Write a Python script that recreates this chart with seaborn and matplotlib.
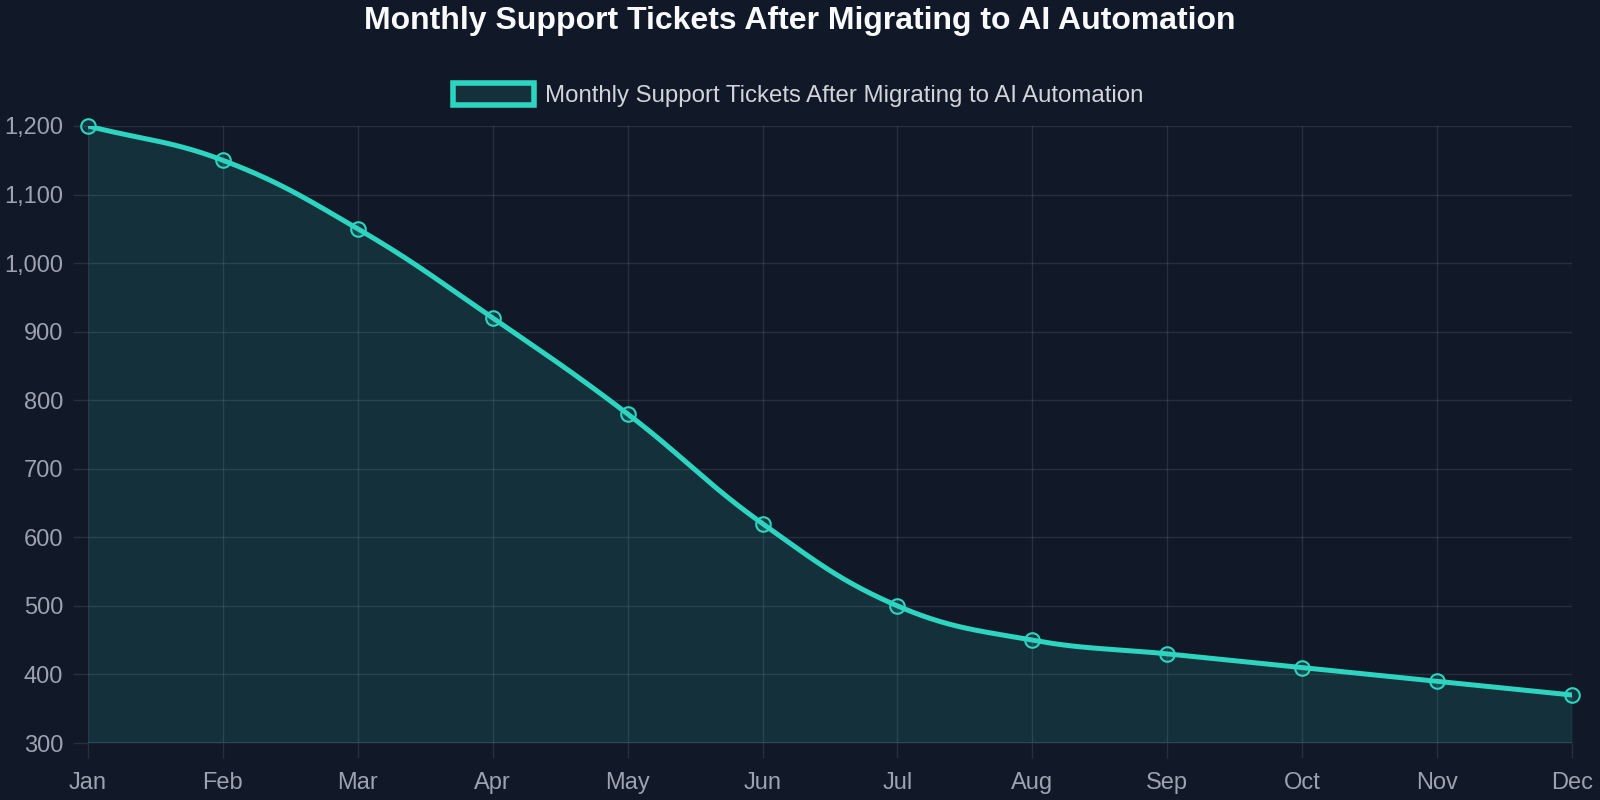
import numpy as np
import pandas as pd
import matplotlib
matplotlib.use("Agg")
import matplotlib.pyplot as plt
import seaborn as sns
from matplotlib.patches import Patch
from matplotlib.ticker import FuncFormatter, MultipleLocator

months = ["Jan", "Feb", "Mar", "Apr", "May", "Jun", "Jul", "Aug", "Sep", "Oct", "Nov", "Dec"]
tickets = [1200, 1150, 1050, 920, 780, 620, 500, 450, 430, 410, 390, 370]
series_name = "Monthly Support Tickets After Migrating to AI Automation"
title = "Monthly Support Tickets After Migrating to AI Automation"

BG = "#111827"
TEAL = "#2dd4bf"
FILL = (45 / 255, 212 / 255, 191 / 255, 0.13)
GRID_RGB = (148 / 255, 163 / 255, 184 / 255)
GRID_A = 0.17
GRID_SOLID = "#262f3f"
TICK = "#9ca3af"

sns.set_theme(style="dark")
plt.rcParams["font.family"] = ["Liberation Sans", "DejaVu Sans"]

df = pd.DataFrame({"month": months, "tickets": tickets, "idx": np.arange(len(months))})

fig = plt.figure(figsize=(16, 8), dpi=100, facecolor=BG)
W, H = 1600, 800
left, right, top, bottom = 88, 1572, 126, 743
ax = fig.add_axes([left / W, 1 - bottom / H, (right - left) / W, (bottom - top) / H])
ax.set_facecolor(BG)
ax.set_xlim(0, len(months) - 1)
ax.set_ylim(300, 1200)

# Spline (Chart.js style, tension 0.4) computed in pixel space
fig.canvas.draw()
pts = ax.transData.transform(np.column_stack([df["idx"], df["tickets"]]).astype(float))
t = 0.4
n = len(pts)
cp_prev = np.zeros_like(pts)
cp_next = np.zeros_like(pts)
for i in range(n):
    prev = pts[i - 1] if i > 0 else pts[i]
    cur = pts[i]
    nxt = pts[i + 1] if i < n - 1 else pts[i]
    d01 = np.hypot(*(cur - prev))
    d12 = np.hypot(*(nxt - cur))
    s = d01 + d12
    s01 = d01 / s if s else 0
    s12 = d12 / s if s else 0
    cp_prev[i] = cur - t * s01 * (nxt - prev)
    cp_next[i] = cur + t * s12 * (nxt - prev)

curve = []
u = np.linspace(0, 1, 60)[:, None]
for i in range(n - 1):
    p0, p1, p2, p3 = pts[i], cp_next[i], cp_prev[i + 1], pts[i + 1]
    seg = (1 - u) ** 3 * p0 + 3 * (1 - u) ** 2 * u * p1 + 3 * (1 - u) * u ** 2 * p2 + u ** 3 * p3
    curve.append(seg if i == 0 else seg[1:])
curve = np.vstack(curve)
curve_data = ax.transData.inverted().transform(curve)

ax.fill_between(curve_data[:, 0], curve_data[:, 1], 300, color=FILL, linewidth=0, zorder=1)
ax.plot(curve_data[:, 0], curve_data[:, 1], color=TEAL, linewidth=3.6,
        solid_capstyle="round", solid_joinstyle="round", zorder=3)
sns.scatterplot(data=df, x="idx", y="tickets", ax=ax, s=110, marker="o",
                facecolor=(45 / 255, 212 / 255, 191 / 255, 0.15), edgecolor=TEAL,
                linewidth=1.5, zorder=4, clip_on=False, legend=False)

ax.set_xlim(0, len(months) - 1)
ax.set_ylim(300, 1200)
ax.set_xticks(df["idx"])
ax.set_xticklabels(months)
ax.yaxis.set_major_locator(MultipleLocator(100))
ax.yaxis.set_major_formatter(FuncFormatter(lambda v, p: f"{v:,.0f}"))
ax.set_xlabel("")
ax.set_ylabel("")
ax.grid(True, color=GRID_RGB, alpha=GRID_A, linewidth=1)
ax.set_axisbelow(True)
for sp in ax.spines.values():
    sp.set_visible(False)
ax.tick_params(axis="both", bottom=True, left=True, colors=GRID_SOLID, labelcolor=TICK,
               labelsize=17, length=11, width=1)
ax.tick_params(axis="x", pad=10)
ax.tick_params(axis="y", pad=7)
ax.axhline(300, color=GRID_RGB, alpha=0.22, linewidth=1.2, zorder=2)

fig.text(0.5, 1 - 21 / H, title, ha="center", va="center", color="#f9fafb",
         fontsize=23, fontweight="bold")

handle = Patch(facecolor=FILL, edgecolor=TEAL, linewidth=4)
leg = fig.legend([handle], [series_name], loc="center", bbox_to_anchor=(798 / W, 1 - 95 / H),
                 frameon=False, fontsize=17.3, handlelength=3.4, handleheight=1.0,
                 handletextpad=0.45, borderaxespad=0)
for txt in leg.get_texts():
    txt.set_color("#d1d5db")

fig.savefig("out.png", dpi=100, facecolor=BG)
